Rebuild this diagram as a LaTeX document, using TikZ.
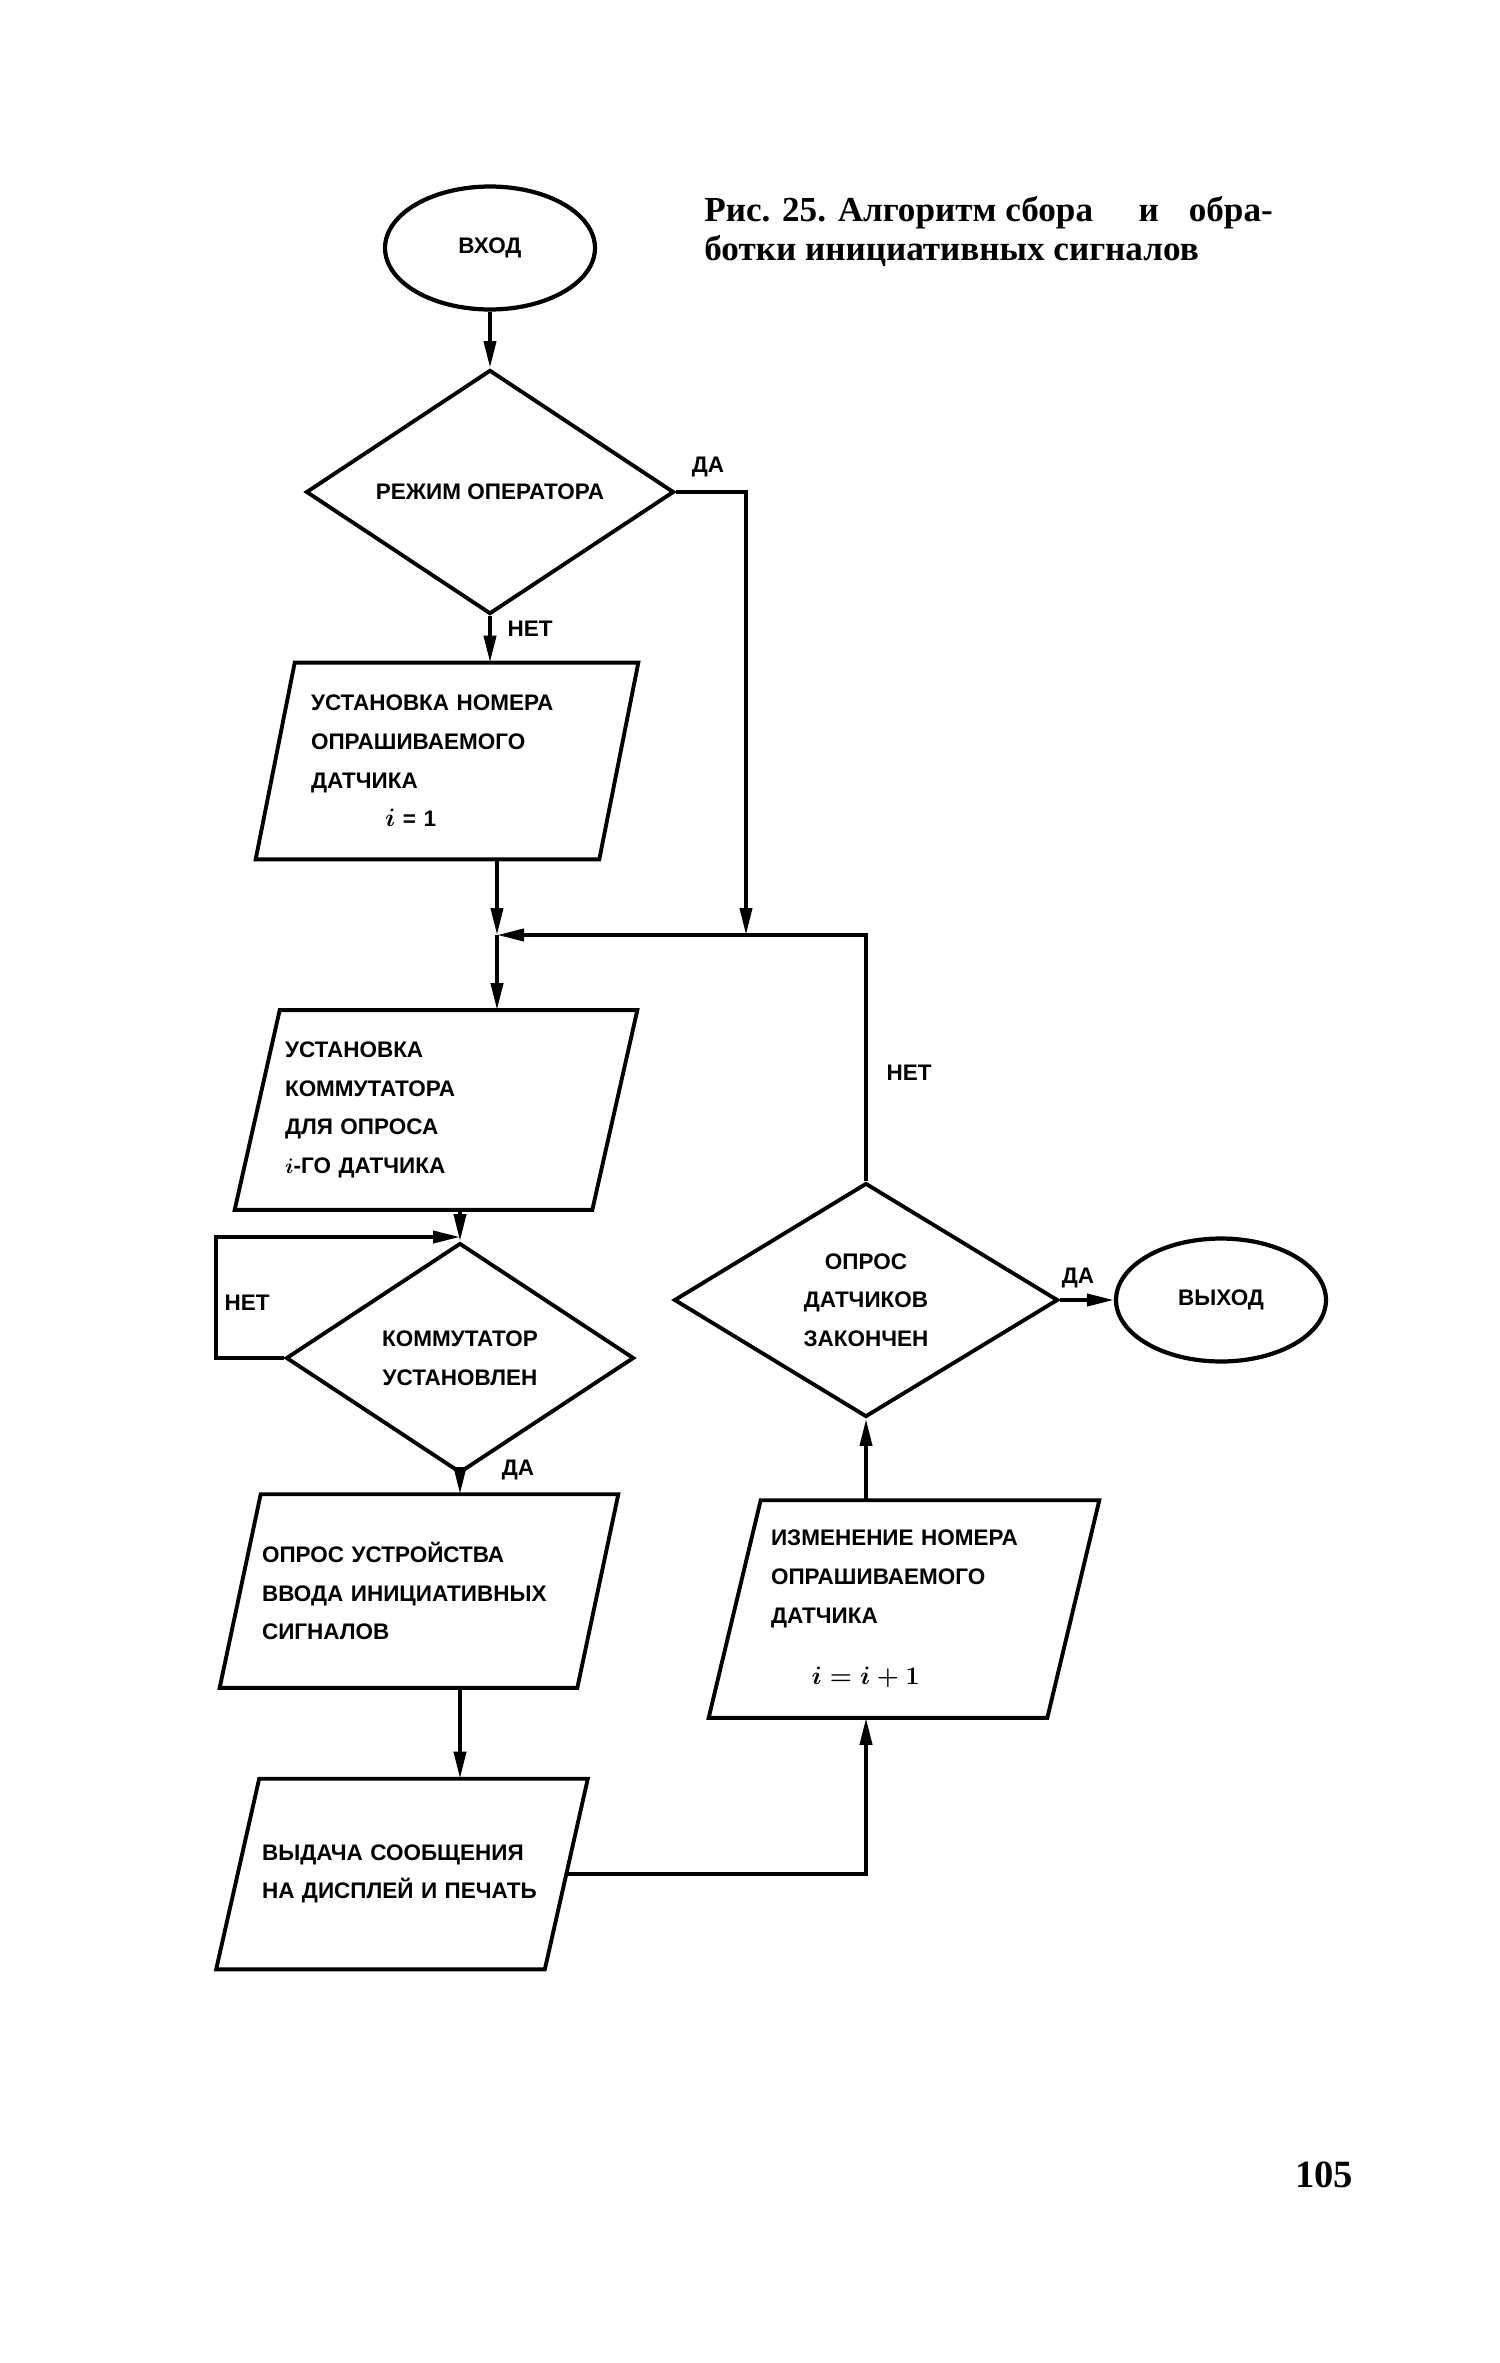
\documentclass[tikz,border=0pt]{standalone}
\usepackage{fontspec}
\setmainfont{Liberation Serif}
\setsansfont{Liberation Sans}
\usetikzlibrary{shapes.geometric, arrows.meta, positioning, calc}
% parallelogram frame round a named node: node, half slant
\newcommand{\slantframe}[2]{%
  \draw[frame] ($(#1.south west)+(-#2,0)$) -- ($(#1.south east)+(-#2,0)$)
    -- ($(#1.north east)+(#2,0)$) -- ($(#1.north west)+(#2,0)$) -- cycle;}

\begin{document}
\begin{tikzpicture}[
    x=0.02cm, y=-0.02cm,
    font=\sffamily\bfseries\fontsize{12.8}{22}\selectfont,
    term/.style={ellipse, draw, line width=2.4pt, minimum width=4.2cm,
        minimum height=2.46cm, inner sep=0pt},
    cond/.style={diamond, draw, line width=2.2pt, inner sep=0pt, align=center},
    oper/.style={rectangle, inner sep=0pt, align=left},
    frame/.style={line width=2.2pt, line join=miter},
    a/.style={-{Triangle[length=5.4mm, width=2.4mm]}, line width=2.2pt},
    lab/.style={inner sep=0pt}
]
\useasboundingbox (0,0) rectangle (1500,2363);
% ===== ПОДПИСЬ =====
\node[anchor=north west, inner sep=0pt, align=left,
      font=\rmfamily\bfseries\fontsize{20}{22}\selectfont] (cap) at (704,196)
    {Рис. 25. Алгоритм сбора\hspace{26pt}и\hspace{17pt}обра-\\ботки инициативных сигналов};
% ===== ЛЕВАЯ ВЕТВЬ =====
\node[term] (in) at (490,248) {ВХОД};
\node[cond, minimum width=7.36cm, minimum height=4.38cm] (d1) at (490,492) {РЕЖИМ ОПЕРАТОРА};
\node[oper, minimum width=6.86cm, minimum height=3.92cm, text width=5.44cm] (box1) at (447,761)
    {УСТАНОВКА НОМЕРА\\ОПРАШИВАЕМОГО\\ДАТЧИКА\\\hspace*{3.3em}{\fontsize{14.5}{19}\selectfont\boldmath$i$} = 1};
\slantframe{box1}{19.5}
\node[oper, minimum width=7.14cm, minimum height=3.98cm, text width=6.04cm] (box2) at (436,1110)
    {УСТАНОВКА\\КОММУТАТОРА\\ДЛЯ ОПРОСА\\{\boldmath$i$}-ГО ДАТЧИКА};
\slantframe{box2}{22.5}
\node[cond, minimum width=6.96cm, minimum height=4.6cm] (d2) at (460,1358) {КОММУТАТОР\\УСТАНОВЛЕН};
\node[oper, minimum width=7.14cm, minimum height=3.86cm, text width=6.28cm] (box3) at (419,1591)
    {ОПРОС УСТРОЙСТВА\\ВВОДА ИНИЦИАТИВНЫХ\\СИГНАЛОВ};
\slantframe{box3}{20.5}
\node[oper, minimum width=6.56cm, minimum height=3.8cm, text width=5.6cm] (box4) at (402,1874)
    {ВЫДАЧА СООБЩЕНИЯ\\НА ДИСПЛЕЙ И ПЕЧАТЬ};
\slantframe{box4}{21.5}
% ===== ПРАВАЯ ВЕТВЬ =====
\node[cond, minimum width=7.68cm, minimum height=4.68cm] (d3) at (866,1300) {ОПРОС\\ДАТЧИКОВ\\ЗАКОНЧЕН};
\node[term] (out) at (1221,1300) {ВЫХОД};
\node[oper, minimum width=6.76cm, minimum height=4.34cm, text width=5.32cm] (box5) at (904,1609)
    {ИЗМЕНЕНИЕ НОМЕРА\\ОПРАШИВАЕМОГО\\ДАТЧИКА\\[13pt]\hspace*{1.8em}{\fontsize{14.5}{19}\selectfont\boldmath$i = i + 1$}};
\slantframe{box5}{26}
% ===== СВЯЗИ =====
\coordinate (j) at (497,935);
\coordinate (jy) at (746,935);
\coordinate (d2in) at (460,1237);
\draw[a] (in) -- (d1);
\draw[a] (d1.east) -| (jy);
\draw[a] (d1.south) -- (d1.south |- box1.north);
\draw[a] (j |- box1.south) -- (j);
\draw[a] (j) -- (j |- box2.north);
\draw[a] (d3.north) |- (j);
\draw[a] (d2.north |- box2.south) -- (d2.north);
\draw[a] (d2.west) -- ++(-68,0) |- (d2in);
\draw[a] (d2.south) -- (d2.south |- box3.north);
\draw[a] (d2.south |- box3.south) -- (d2.south |- box4.north);
\draw[a] (box4.east) -| (d3.south |- box5.south);
\draw[a] (d3.south |- box5.north) -- (d3.south);
\draw[a] (d3.east) -- (out);
% ===== ПОДПИСИ ВЕТВЕЙ =====
\node[lab] (yes1) at (708,467) {ДА};
\node[lab] (no1) at (530,629) {НЕТ};
\node[lab] (no2) at (247,1303) {НЕТ};
\node[lab] (yes2) at (518,1470) {ДА};
\node[lab] (yes3) at (1078,1278) {ДА};
\node[lab] (no3) at (909,1073) {НЕТ};
\node[font=\rmfamily\bfseries\fontsize{22}{24}\selectfont] (page) at (1324,2175) {105};
\end{tikzpicture}
\end{document}
